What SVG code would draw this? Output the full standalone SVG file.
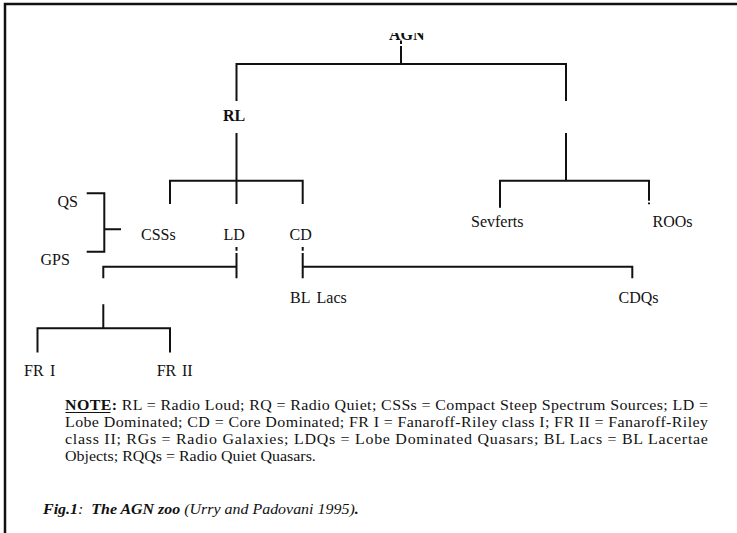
<svg xmlns="http://www.w3.org/2000/svg" width="737" height="533" viewBox="0 0 737 533">
<defs>
<style>
.lbl{font-family:"Liberation Serif","Times New Roman",serif;font-size:16px;fill:#111}
.b{font-weight:bold}
.ln{fill:none;stroke:#111;stroke-width:2;stroke-linejoin:miter}
.note{font-family:"Liberation Serif","Times New Roman",serif;font-size:14px;fill:#111}
</style>
<clipPath id="agnclip"><rect x="380" y="33" width="60" height="20"/></clipPath>
</defs>
<rect x="0" y="0" width="737" height="533" fill="#fff"/>
<path d="M5,533 V4 H737" fill="none" stroke="#111" stroke-width="2.5"/>

<g id="connectors" class="ln">
<path d="M401,40.5 V44 M401,46 V64"/>
<path d="M236.5,101 V64 H566 V101"/>
<path d="M236.5,133 V180.7 M566,133 V180.7"/>
<path d="M170,204 V180.7 H302.7 V204 M236.5,180.7 V204"/>
<path d="M500,207.7 V180.7 H649 V200.7 M649,202.5 V204.3"/>
<path d="M236.5,247 V250.7 M236.5,253 V278.3 M103.3,278.3 V266.7 H236.5"/>
<path d="M302.7,247 V250.7 M302.7,253 V278.3 M302.7,266.7 H632.3 V278.3"/>
<path d="M103.3,304.3 V328.3 M37.5,352.5 V328.3 H170 V352.5"/>
<path d="M86.7,193.3 H104.3 V251.7 H86.7 M104.3,229.3 H121"/>
</g>

<g id="node-agn"><text class="lbl b" x="389" y="39.5" clip-path="url(#agnclip)">AGN</text></g>
<g id="node-rl"><text class="lbl b" x="223" y="121">RL</text></g>
<g id="node-csss"><text class="lbl" x="141" y="240">CSSs</text></g>
<g id="node-ld"><text class="lbl" x="223.5" y="240">LD</text></g>
<g id="node-cd"><text class="lbl" x="289.5" y="240">CD</text></g>
<g id="node-seyferts"><text class="lbl" x="471" y="226.5">Sevferts</text></g>
<g id="node-roos"><text class="lbl" x="652.5" y="226.5">ROOs</text></g>
<g id="node-qs"><text class="lbl" x="57.5" y="206.5">QS</text></g>
<g id="node-gps"><text class="lbl" x="40.5" y="265">GPS</text></g>
<g id="node-bllacs"><text class="lbl" x="290" y="303">BL<tspan x="316.5">Lacs</tspan></text></g>
<g id="node-cdqs"><text class="lbl" x="618.5" y="303">CDQs</text></g>
<g id="node-fr1"><text class="lbl" x="24" y="376">FR<tspan x="50">I</tspan></text></g>
<g id="node-fr2"><text class="lbl" x="156.7" y="376">FR<tspan x="182">II</tspan></text></g>

<g id="note">
<g transform="translate(65,0) scale(1.14,1)" class="note">
<text x="0" y="410" textLength="564" lengthAdjust="spacing"><tspan class="b">NOTE:</tspan> RL = Radio Loud; RQ = Radio Quiet; CSSs = Compact Steep Spectrum Sources; LD =</text>
<text x="0" y="427" textLength="564" lengthAdjust="spacing">Lobe Dominated; CD = Core Dominated; FR I = Fanaroff-Riley class I; FR II = Fanaroff-Riley</text>
<text x="0" y="444" textLength="564" lengthAdjust="spacing">class II; RGs = Radio Galaxies; LDQs = Lobe Dominated Quasars; BL Lacs = BL Lacertae</text>
<text x="0" y="461">Objects; RQQs = Radio Quiet Quasars.</text>
</g>
<line x1="65.5" y1="412.5" x2="110.5" y2="412.5" stroke="#111" stroke-width="1.2"/>
</g>

<g id="caption" transform="translate(43,0) scale(1.14,1)" class="note">
<text x="0" y="514" xml:space="preserve"><tspan font-weight="bold" font-style="italic">Fig.1</tspan><tspan font-style="italic">:  </tspan><tspan font-weight="bold" font-style="italic">The AGN zoo</tspan><tspan font-style="italic"> (Urry and Padovani 1995)</tspan><tspan font-weight="bold" font-style="italic">.</tspan></text>
</g>
</svg>
